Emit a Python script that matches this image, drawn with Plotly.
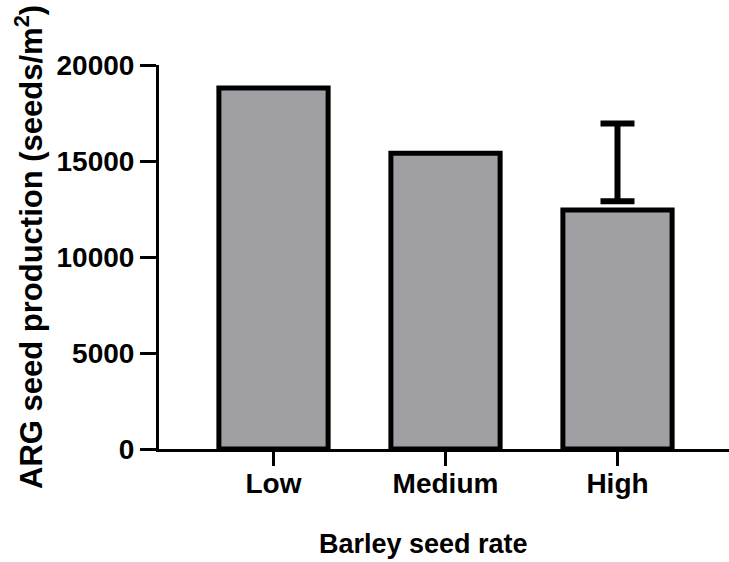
import plotly.graph_objects as go

categories = ["Low", "Medium", "High"]
seed_production = [18800, 15400, 12450]
err_lower = [None, None, 12900]
err_upper = [None, None, 16950]

y_ticks = [0, 5000, 10000, 15000, 20000]

FONT = "Liberation Sans, Arial, sans-serif"
W, H = 729, 562
L, R, T, B = 159, 0, 65, 113
plot_w = W - L - R
plot_h = H - T - B

fig = go.Figure()
fig.add_trace(go.Bar(
    x=categories, y=seed_production, width=0.635,
    marker=dict(color="#A09FA4", line=dict(color="black", width=5)),
    showlegend=False, hoverinfo="skip",
))

ex, ey, ee = [], [], []
for c, lo, hi in zip(categories, err_lower, err_upper):
    if lo is not None:
        ex.append(c)
        ey.append((lo + hi) / 2)
        ee.append((hi - lo) / 2)
fig.add_trace(go.Scatter(
    x=ex, y=ey, mode="markers",
    marker=dict(size=1, color="rgba(0,0,0,0)"),
    error_y=dict(type="data", array=ee, symmetric=True, color="black", thickness=6, width=17),
    showlegend=False, hoverinfo="skip",
))

x0 = -(273.5 - L) / 172.0
x1 = x0 + plot_w / 172.0

fig.update_layout(
    width=W, height=H,
    margin=dict(l=L, r=R, t=T, b=B, pad=0),
    paper_bgcolor="white", plot_bgcolor="white",
    font=dict(family=FONT, color="black"),
    xaxis=dict(
        type="category", range=[x0, x1],
        tickvals=categories, ticktext=categories,
        showline=True, linecolor="black", linewidth=3,
        ticks="outside", ticklen=14, tickwidth=3, tickcolor="black",
        ticklabelstandoff=-7,
        tickfont=dict(family=FONT, size=28, weight="bold", color="black"),
        showgrid=False, zeroline=False,
    ),
    yaxis=dict(
        range=[0, 20000], tickvals=y_ticks, tickformat="d",
        showline=True, linecolor="black", linewidth=3,
        ticks="outside", ticklen=16, tickwidth=3, tickcolor="black",
        tickfont=dict(family=FONT, size=28, weight="bold", color="black"),
        showgrid=False, zeroline=False,
    ),
    annotations=[
        dict(text="Barley seed rate", xref="paper", yref="paper",
             x=(423 - L) / plot_w, y=(449 - 544) / plot_h,
             xanchor="center", yanchor="middle", showarrow=False,
             font=dict(family=FONT, size=27, weight="bold", color="black")),
        dict(text="ARG seed production (seeds/m<sup>2</sup>)", xref="paper", yref="paper",
             x=(29 - L) / plot_w, y=(449 - 247) / plot_h, textangle=-90,
             xanchor="center", yanchor="middle", showarrow=False,
             font=dict(family=FONT, size=31, weight="bold", color="black")),
    ],
)

fig.write_html("out.html", config={"displayModeBar": False},
               post_script="document.body.style.margin='0';document.body.style.overflow='hidden';")
